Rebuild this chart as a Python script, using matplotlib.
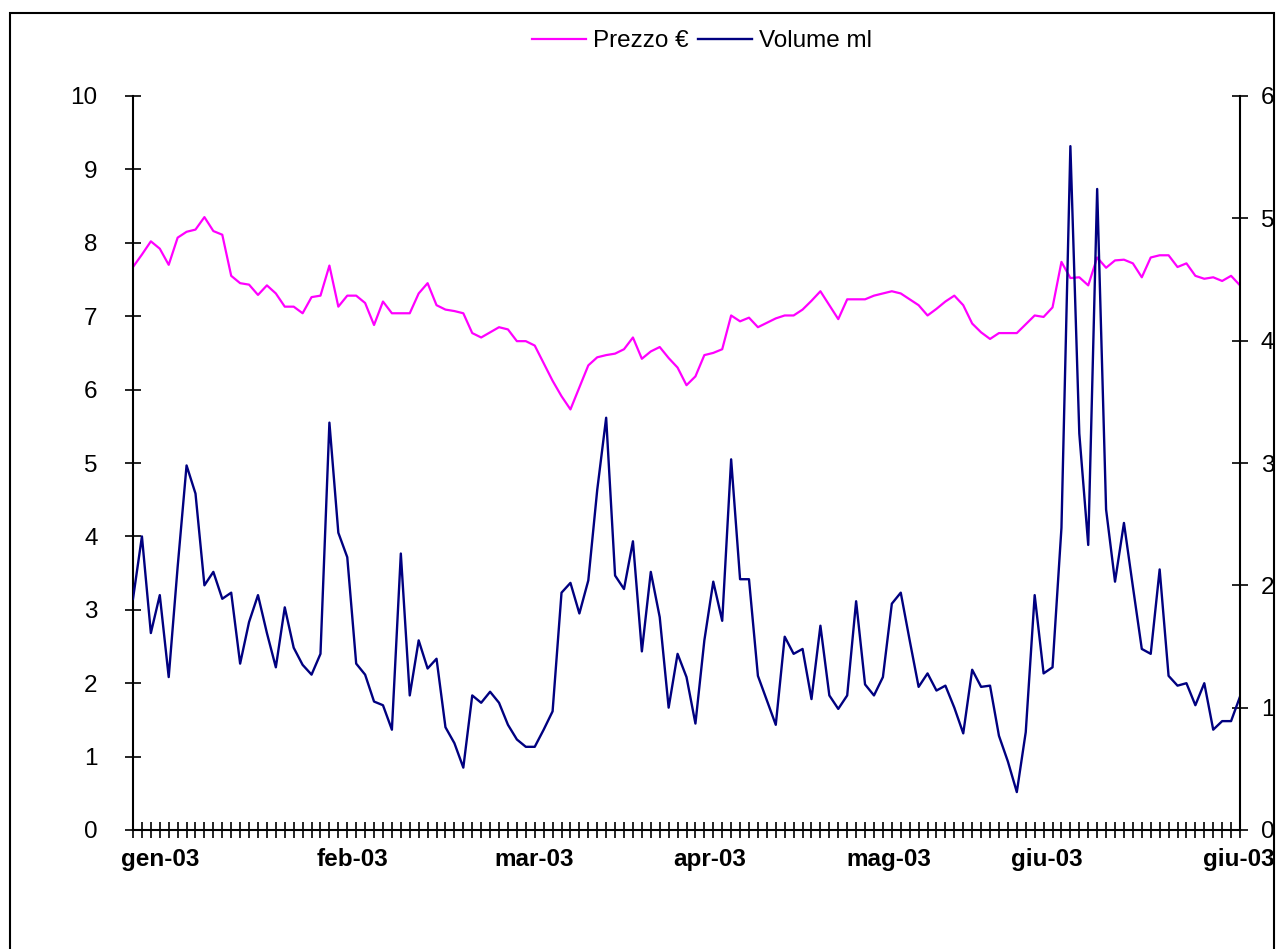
import matplotlib
matplotlib.use("Agg")
import matplotlib.pyplot as plt
from matplotlib.patches import Rectangle

# prezzo (asse sinistro) e volume (asse destro), una seduta per punto
prezzo = [7.67, 7.84, 8.02, 7.92, 7.70, 8.07, 8.15, 8.18, 8.35, 8.16,
          8.11, 7.55, 7.45, 7.43, 7.29, 7.42, 7.31, 7.13, 7.13, 7.04,
          7.26, 7.28, 7.69, 7.13, 7.28, 7.28, 7.18, 6.88, 7.20, 7.04,
          7.04, 7.04, 7.31, 7.45, 7.15, 7.09, 7.07, 7.04, 6.77, 6.71,
          6.78, 6.85, 6.82, 6.66, 6.66, 6.60, 6.36, 6.12, 5.91, 5.73,
          6.03, 6.33, 6.44, 6.47, 6.49, 6.55, 6.71, 6.42, 6.52, 6.58,
          6.43, 6.30, 6.06, 6.18, 6.47, 6.50, 6.55, 7.01, 6.93, 6.98,
          6.85, 6.91, 6.97, 7.01, 7.01, 7.09, 7.21, 7.34, 7.15, 6.96,
          7.23, 7.23, 7.23, 7.28, 7.31, 7.34, 7.31, 7.23, 7.15, 7.01,
          7.10, 7.20, 7.28, 7.15, 6.90, 6.78, 6.69, 6.77, 6.77, 6.77,
          6.89, 7.01, 6.99, 7.12, 7.74, 7.52, 7.53, 7.42, 7.80, 7.66,
          7.76, 7.77, 7.72, 7.53, 7.80, 7.83, 7.83, 7.67, 7.72, 7.55,
          7.51, 7.53, 7.48, 7.55, 7.42]

volume = [1.89, 2.40, 1.61, 1.92, 1.25, 2.15, 2.98, 2.75, 2.00, 2.11,
          1.89, 1.94, 1.36, 1.70, 1.92, 1.61, 1.33, 1.82, 1.49, 1.35,
          1.27, 1.44, 3.33, 2.43, 2.23, 1.36, 1.27, 1.05, 1.02, 0.82,
          2.26, 1.10, 1.55, 1.32, 1.40, 0.84, 0.71, 0.51, 1.10, 1.04,
          1.13, 1.04, 0.86, 0.74, 0.68, 0.68, 0.82, 0.97, 1.94, 2.02,
          1.77, 2.04, 2.78, 3.37, 2.08, 1.97, 2.36, 1.46, 2.11, 1.74,
          1.00, 1.44, 1.25, 0.87, 1.55, 2.03, 1.71, 3.03, 2.05, 2.05,
          1.26, 1.06, 0.86, 1.58, 1.44, 1.48, 1.07, 1.67, 1.10, 0.99,
          1.10, 1.87, 1.19, 1.10, 1.25, 1.85, 1.94, 1.55, 1.17, 1.28,
          1.14, 1.18, 1.00, 0.79, 1.31, 1.17, 1.18, 0.77, 0.56, 0.31,
          0.80, 1.92, 1.28, 1.33, 2.47, 5.59, 3.24, 2.33, 5.24, 2.62,
          2.03, 2.51, 1.99, 1.48, 1.44, 2.13, 1.26, 1.18, 1.20, 1.02,
          1.20, 0.82, 0.89, 0.89, 1.09]

mesi = ["gen-03", "feb-03", "mar-03", "apr-03", "mag-03", "giu-03", "giu-03"]
mesi_pos = [3.1, 24.6, 44.9, 64.6, 84.7, 102.4, 123.9]

plt.rcParams['font.family'] = ['Liberation Sans', 'DejaVu Sans']

W, H = 1276, 949
fig = plt.figure(figsize=(W / 100, H / 100), dpi=100)
ax = fig.add_axes([133 / W, 1 - 830 / H, (1240 - 133) / W, (830 - 96) / H])

x = list(range(len(prezzo)))
l1, = ax.plot(x, prezzo, color='#FF00FF', lw=1.6)
ax2 = ax.twinx()
l2, = ax2.plot(x, volume, color='#000080', lw=1.7)

ax.set_xlim(0, len(prezzo) - 1)
ax.set_ylim(0, 10)
ax2.set_ylim(0, 6)
ax.set_yticks(range(11))
ax2.set_yticks(range(7))

ax.spines['top'].set_visible(False)
ax.spines['right'].set_visible(False)
for s in ['top', 'left', 'bottom']:
    ax2.spines[s].set_visible(False)
for s in ['left', 'bottom']:
    ax.spines[s].set_linewidth(1.5)
ax2.spines['right'].set_linewidth(1.5)

ax.tick_params(axis='y', direction='inout', length=11, width=1.2,
               labelsize=17.5, pad=20)
ax2.tick_params(axis='y', direction='inout', length=11, width=1.2,
                labelsize=17.5, pad=9.5)

# tacche per ogni seduta, etichette dei mesi separate
ax.xaxis.remove_overlapping_locs = False
ax.set_xticks(x, minor=True)
ax.set_xticks(mesi_pos)
ax.set_xticklabels(mesi, fontweight='bold', fontsize=17.5)
ax.tick_params(axis='x', which='major', length=0, pad=13)
ax.tick_params(axis='x', which='minor', direction='inout', length=12, width=1.2)

fig.legend([l1, l2], ["Prezzo €", "Volume ml"], loc='center',
           bbox_to_anchor=(702 / W, 1 - 41 / H), ncol=2, frameon=False,
           fontsize=17.5, handlelength=2.2, handletextpad=0.3, columnspacing=0.4)

fig.patches.append(Rectangle((10 / W, -0.01), (1274 - 10) / W, 1.01 - 13 / H,
                             transform=fig.transFigure, fill=False,
                             ec='black', lw=1.5))

fig.savefig('out.png', dpi=100)
